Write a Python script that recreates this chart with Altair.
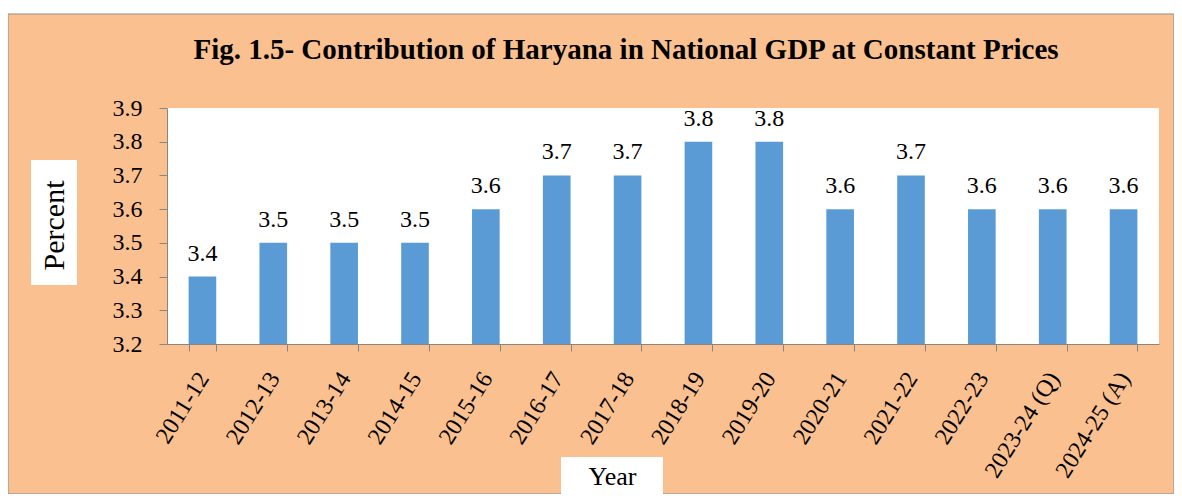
import altair as alt
import pandas as pd

years = ["2011-12", "2012-13", "2013-14", "2014-15", "2015-16", "2016-17", "2017-18",
         "2018-19", "2019-20", "2020-21", "2021-22", "2022-23", "2023-24 (Q)", "2024-25 (A)"]
share = [3.4, 3.5, 3.5, 3.5, 3.6, 3.7, 3.7, 3.8, 3.8, 3.6, 3.7, 3.6, 3.6, 3.6]
y_ticks = [3.2, 3.3, 3.4, 3.5, 3.6, 3.7, 3.8, 3.9]
title_text = "Fig. 1.5- Contribution of Haryana in National GDP at Constant Prices"

PEACH = "#FAC090"
BLUE = "#5B9BD5"
GRAY = "#868686"
FONT = "Liberation Serif"

df = pd.DataFrame({"Year": years, "Percent": share})
one = pd.DataFrame({"t": [title_text]})

W, H = 992, 236

frame = alt.Chart(one).mark_rect(fill=PEACH, stroke="#8C8C8C", strokeWidth=1).encode(
    x=alt.value(-159), x2=alt.value(1007), y=alt.value(-94), y2=alt.value(386))
plot_bg = alt.Chart(one).mark_rect(fill="white").encode(
    x=alt.value(0), x2=alt.value(W), y=alt.value(0), y2=alt.value(H))
ybox = alt.Chart(one).mark_rect(fill="white").encode(
    x=alt.value(-136), x2=alt.value(-90), y=alt.value(52), y2=alt.value(177))
xbox = alt.Chart(one).mark_rect(fill="white").encode(
    x=alt.value(394), x2=alt.value(496), y=alt.value(349), y2=alt.value(386))
title = alt.Chart(one).mark_text(font=FONT, fontSize=29, fontWeight="bold", color="black",
                                 align="center", baseline="alphabetic").encode(
    x=alt.value(459), y=alt.value(-49), text="t:N")

common = dict(labelFont=FONT, labelFontSize=24, labelColor="black",
              titleFont=FONT, titleColor="black", titleFontWeight="normal",
              tickColor=GRAY, domainColor=GRAY, grid=False, zindex=1)
xaxis = alt.Axis(title="Year", titleFontSize=26,
                 titleX=445, titleY=140, titleAlign="center",
                 titleBaseline="alphabetic", titleAngle=0,
                 labelAngle=-58, labelAlign="right", labelBaseline="middle",
                 tickSize=7, labelPadding=23, labelOffset=1, labelOverlap=False, labelLimit=0,
                 tickBand="extent", **common)
yaxis = alt.Axis(title="Percent", titleFontSize=30,
                 titleX=-113, titleY=117, titleAngle=-90,
                 titleAlign="center", titleBaseline="middle",
                 values=y_ticks, format=".1f", tickSize=8, labelPadding=17, labelOverlap=False,
                 **common)
xs = alt.Scale(paddingInner=0.61, paddingOuter=0.305)
ys = alt.Scale(domain=[3.2, 3.9], zero=False, nice=False)

bars = alt.Chart(df).mark_bar(color=BLUE).encode(
    x=alt.X("Year:N", sort=None, scale=xs, axis=xaxis),
    y=alt.Y("Percent:Q", scale=ys, axis=yaxis),
    y2=alt.datum(3.2))
labels = alt.Chart(df).mark_text(font=FONT, fontSize=24, color="black",
                                 baseline="alphabetic", dy=-16).encode(
    x=alt.X("Year:N", sort=None, scale=xs, axis=xaxis),
    y=alt.Y("Percent:Q", scale=ys, axis=yaxis),
    text=alt.Text("Percent:Q", format=".1f"))

chart = alt.layer(frame, plot_bg, ybox, xbox, title, bars, labels).properties(
    width=W, height=H,
    autosize=alt.AutoSizeParams(type="none"),
    padding={"left": 159, "top": 100, "right": 15, "bottom": 150},
    background="white",
).configure(font=FONT).configure_view(stroke=None)

chart.save("out.html", embed_options={"renderer": "svg", "actions": False})
